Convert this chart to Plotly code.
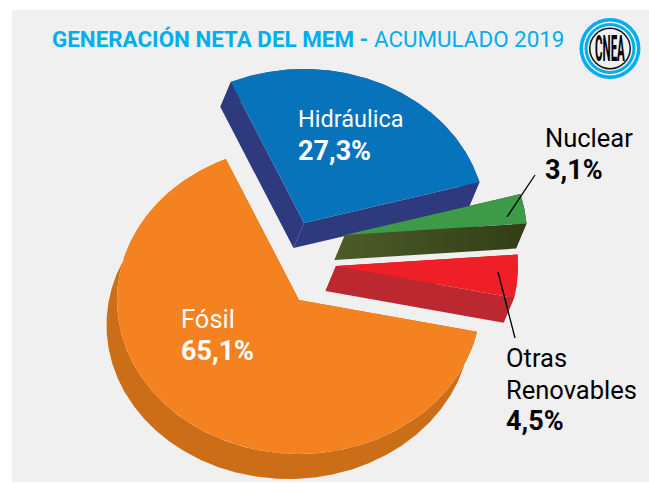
import numpy as np
import plotly.graph_objects as go

categories = ["Hidráulica", "Nuclear", "Otras Renovables", "Fósil"]
values = [27.3, 3.1, 4.5, 65.1]
value_labels = ["27,3%", "3,1%", "4,5%", "65,1%"]
top_colors = ["#0673bb", "#3d9a49", "#ee1f27", "#f58220"]
side_colors = ["#2f3a7e", "#3f4a20", "#bb282f", "#cc6e17"]
centers = [(304, 223), (345, 235), (336, 266), (299, 300)]

START_DEG = 113.7
RX, RY = 182, 154
DEPTH_X, DEPTH_Y = -10.5, 25
W, H = 649, 483
FONT = "Roboto"

fig = go.Figure()


def poly(xs, ys, color, **kw):
    fig.add_trace(go.Scatter(x=list(xs), y=list(ys), mode="lines", fill="toself",
                             fillcolor=color, line=dict(width=0), hoverinfo="skip",
                             showlegend=False, **kw))


angle = START_DEG
for name, val, top, side, (cx, cy) in zip(categories, values, top_colors, side_colors, centers):
    sweep = val * 3.6
    t = np.radians(np.linspace(angle, angle - sweep, max(8, int(sweep * 2))))
    ax = cx + RX * np.cos(t)
    ay = cy - RY * np.sin(t)
    extra = {}
    if name == "Nuclear":
        extra = dict(fillgradient=dict(type="horizontal",
                                       colorscale=[[0, "#4c5c28"], [1, "#323d16"]]))
    poly(np.r_[ax, ax[::-1] + DEPTH_X], np.r_[ay, ay[::-1] + DEPTH_Y], side, **extra)
    for ex, ey in ((ax[0], ay[0]), (ax[-1], ay[-1])):
        poly([cx, ex, ex + DEPTH_X, cx + DEPTH_X], [cy, ey, ey + DEPTH_Y, cy + DEPTH_Y], side, **extra)
    poly(np.r_[cx, ax], np.r_[cy, ay], top)
    angle -= sweep

shapes = [
    dict(type="rect", x0=12, x1=W, y0=10, y1=482, fillcolor="#f0f0f0", line_width=0, layer="below"),
    dict(type="line", x0=507, y0=217, x1=535, y1=175, line=dict(color="black", width=1.3)),
    dict(type="line", x0=498, y0=272, x1=515, y1=338, line=dict(color="black", width=1.3)),
]
for r, c in ((30.5, "#00aeef"), (27, "#f0f0f0"), (25.5, "#00aeef"), (22.5, "#f0f0f0"), (21, "#111111"), (19.5, "#f0f0f0")):
    shapes.append(dict(type="circle", x0=610 - r, x1=610 + r, y0=48.5 - r, y1=48.5 + r,
                       fillcolor=c, line_width=0))


def label(x, y, text, color, size=25.5, bold=False):
    fig.add_annotation(x=x, y=y, text=f"<b>{text}</b>" if bold else text, showarrow=False,
                       xanchor="left", yanchor="middle", xref="x", yref="y",
                       font=dict(family=FONT, size=size, color=color))


label(50, 39, "<b>GENERACIÓN NETA DEL MEM -</b> ACUMULADO 2019", "#00aeef", size=22.4)
label(296, 119, "Hidráulica", "white", size=23.5)
label(296, 151, value_labels[0], "white", size=27, bold=True)
label(543, 138, "Nuclear", "black")
label(543, 170, value_labels[1], "black", size=27, bold=True)
label(504, 358, "Otras", "black")
label(504, 390, "Renovables", "black")
label(504, 421, value_labels[2], "black", size=27, bold=True)
label(179, 319, "Fósil", "white")
label(179, 351, value_labels[3], "white", size=27, bold=True)
fig.add_annotation(x=610, y=48.5, text="<b>CNEA</b>", showarrow=False, xref="x", yref="y",
                   font=dict(family=FONT, size=11.5, color="black"))

fig.update_layout(
    width=W, height=H, margin=dict(l=0, r=0, t=0, b=0),
    paper_bgcolor="white", plot_bgcolor="rgba(0,0,0,0)", shapes=shapes, showlegend=False,
    xaxis=dict(range=[0, W], visible=False, fixedrange=True),
    yaxis=dict(range=[H, 0], visible=False, fixedrange=True),
)
fig.write_html("out.html", config={"displayModeBar": False},
               post_script="""document.body.style.margin='0';
document.querySelectorAll('text').forEach(function(t){
  if(t.textContent==='CNEA'){t.style.transformBox='fill-box';t.style.transformOrigin='center';t.style.transform='scaleY(3.2)';}
});""")
